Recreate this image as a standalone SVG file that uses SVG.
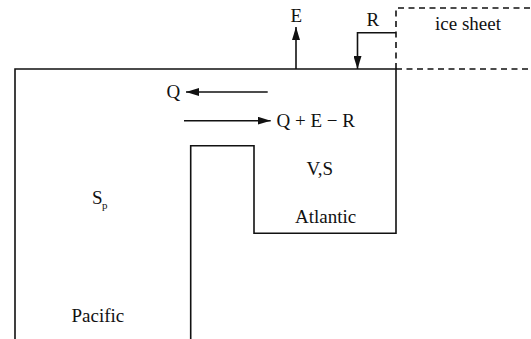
<svg xmlns="http://www.w3.org/2000/svg" width="531" height="339" viewBox="0 0 531 339">
<style>
.ln{fill:none;stroke:#111;stroke-width:1.6}
.dash{fill:none;stroke:#111;stroke-width:1.6;stroke-dasharray:6 4.5}
</style>
<defs>
<marker id="ah" viewBox="0 0 13 8" refX="13" refY="4" markerWidth="13" markerHeight="8" markerUnits="userSpaceOnUse" orient="auto">
<path d="M0,0 L13,4 L0,8 Z" fill="#111"/>
</marker>
</defs>
<rect width="531" height="339" fill="#fff"/>
<g id="basin">
<path class="ln" d="M15,339 V69 H396 V233.3 H254 V145.7 H190.7 V339"/>
</g>
<g id="icesheet">
<path class="dash" d="M396,69 V8 H531"/>
<path class="dash" d="M396,69 H531"/>
<text font-family="'Liberation Serif', serif" font-size="19" fill="#111" x="435" y="30">ice sheet</text>
</g>
<g id="connectors">
<line class="ln" x1="296" y1="69" x2="296" y2="27" marker-end="url(#ah)"/>
<polyline class="ln" points="396,32.7 357.5,32.7 357.5,69" marker-end="url(#ah)"/>
<line class="ln" x1="267.7" y1="92" x2="186" y2="92" marker-end="url(#ah)"/>
<line class="ln" x1="184" y1="120.7" x2="270.7" y2="120.7" marker-end="url(#ah)"/>
</g>
<g id="labels" font-family="'Liberation Serif', serif" font-size="19" fill="#111">
<text x="290.5" y="22">E</text>
<text x="366.5" y="26">R</text>
<text x="166.5" y="97.5">Q</text>
<text x="276.5" y="126.5">Q + E − R</text>
<text x="306.5" y="175">V,S</text>
<text x="92" y="204">S<tspan x="102" y="208.5" font-size="11">p</tspan></text>
<text x="295" y="222.7">Atlantic</text>
<text x="71.5" y="322">Pacific</text>
</g>
</svg>
